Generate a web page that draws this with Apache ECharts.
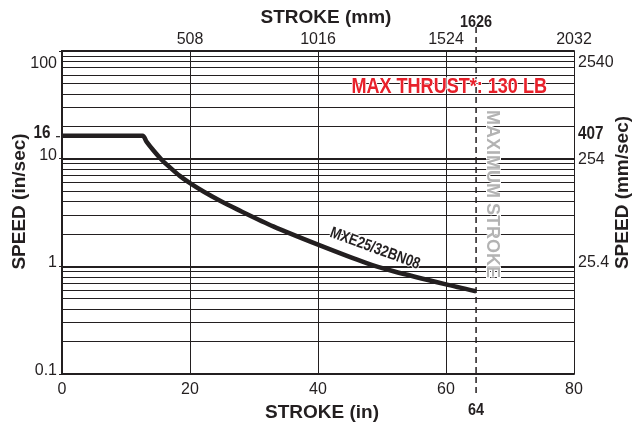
<!DOCTYPE html>
<html>
<head>
<meta charset="utf-8">
<script src="https://cdn.jsdelivr.net/npm/echarts@6/dist/echarts.min.js"></script>
<style>
  html, body { margin: 0; padding: 0; background: #fff; }
  #chart { width: 636px; height: 427px; }
</style>
</head>
<body>
<div id="chart"></div>
<script>
// stroke (in) -> max speed (in/sec)
const strokeIn = [0, 12.6, 13.2, 14.3, 15.6, 16.9, 18.4, 20, 22.1, 24.7, 27.3, 33, 40, 47.6, 51.8, 60, 64.7];
const speedIn = [16.3, 16.3, 14.4, 11.9, 9.73, 8.26, 6.92, 5.92, 4.95, 4.06, 3.40, 2.35, 1.59, 1.07, 0.90, 0.68, 0.587];
// minor horizontal grid lines (log decades)
const minorGrid = [0.2, 0.3, 0.4, 0.5, 0.6, 0.7, 0.8, 0.9, 2, 3, 4, 5, 6, 7, 8, 9, 20, 30, 40, 50, 60, 70, 80, 90];
const MM_PER_IN = 25.4;
const STROKE_MAX = 64.7; // where the dashed line sits in the picture
const SPEED_MAX = 16;

const FONT = '"Liberation Sans", Arial, sans-serif';
const INK = '#231f20';

const chart = echarts.init(document.getElementById('chart'));

const xBase = {
  type: 'value', min: 0, max: 80, interval: 20,
  axisLine: { show: true, lineStyle: { color: INK, width: 2 } },
  axisTick: { show: false },
  nameLocation: 'middle',
  nameTextStyle: { fontFamily: FONT, fontWeight: 'bold', fontSize: 19, color: INK }
};
const yBase = {
  type: 'log', logBase: 10, min: 0.1, max: 100,
  axisLine: { show: true, lineStyle: { color: INK, width: 2 } },
  nameLocation: 'middle', nameRotate: 90, nameMoveOverlap: false,
  nameTextStyle: { fontFamily: FONT, fontWeight: 'bold', fontSize: 19, color: INK }
};

chart.setOption({
  animation: false,
  grid: { left: 62, right: 62, top: 51, bottom: 53, containLabel: false, outerBoundsMode: 'none' },
  xAxis: [
    Object.assign({}, xBase, {
      position: 'bottom',
      name: 'STROKE (in)', nameGap: 28,
      nameTextStyle: Object.assign({}, xBase.nameTextStyle, { padding: [0, 0, 0, 8] }),
      axisLabel: { fontFamily: FONT, fontSize: 16, color: INK, margin: 8 },
      splitLine: { show: true, lineStyle: { color: INK, width: 1 } }
    }),
    Object.assign({}, xBase, {
      position: 'top',
      name: 'STROKE (mm)', nameGap: 24,
      nameTextStyle: Object.assign({}, xBase.nameTextStyle, { padding: [0, 0, 0, 16] }),
      axisLabel: {
        fontFamily: FONT, fontSize: 16, color: INK, margin: 3,
        formatter: v => v === 0 ? '' : String(Math.round(v * MM_PER_IN))
      },
      splitLine: { show: false }
    })
  ],
  yAxis: [
    Object.assign({}, yBase, {
      position: 'left',
      name: 'SPEED (in/sec)', nameGap: 33,
      nameTextStyle: Object.assign({}, yBase.nameTextStyle, { padding: [0, 0, 0, 22] }),
      axisTick: { show: true, length: 3, lineStyle: { color: INK } },
      axisLabel: {
        fontFamily: FONT, fontSize: 16, color: INK, margin: 5,
        formatter: v => v > 50 ? '{low|100}' : '{up|' + (v < 0.5 ? '0.1' : Math.round(v)) + '}',
        rich: {
          low: { fontFamily: FONT, fontSize: 16, color: INK, padding: [26, 0, 0, 0] },
          up: { fontFamily: FONT, fontSize: 16, color: INK, padding: [0, 0, 7, 0] }
        }
      },
      splitLine: { show: true, lineStyle: { color: INK, width: 2 } }
    }),
    Object.assign({}, yBase, {
      position: 'right',
      name: 'SPEED (mm/sec)', nameGap: 39,
      nameTextStyle: Object.assign({}, yBase.nameTextStyle, { padding: [0, 0, 0, 40] }),
      axisTick: { show: false },
      axisLabel: {
        fontFamily: FONT, fontSize: 16, color: INK, margin: 4,
        formatter: v => {
          if (v < 0.5) return '';
          const mm = v * MM_PER_IN;
          return v > 50 ? '{low|' + Math.round(mm) + '}' :
            (v >= 10 ? '{mid|' + Math.round(mm) + '}' : '{up|' + mm.toFixed(1) + '}');
        },
        rich: {
          low: { fontFamily: FONT, fontSize: 16, color: INK, padding: [24, 0, 0, 0] },
          mid: { fontFamily: FONT, fontSize: 16, color: INK, padding: [2, 0, 0, 0] },
          up: { fontFamily: FONT, fontSize: 16, color: INK, padding: [0, 0, 7, 0] }
        }
      },
      splitLine: { show: false }
    })
  ],
  series: [
    {
      type: 'line', data: [], silent: true, z: 1,
      markLine: {
        silent: true, symbol: 'none', label: { show: false },
        lineStyle: { color: INK, width: 1, type: 'solid' },
        data: minorGrid.map(v => ({ yAxis: v }))
      }
    },
    {
      name: 'MXE25/32BN08',
      type: 'line', z: 3,
      data: strokeIn.map((x, i) => [x, speedIn[i]]),
      showSymbol: false, smooth: 0.25,
      lineStyle: { color: INK, width: 4.5 }
    }
  ]
});

// annotations placed through the axes' own scales
const px = v => chart.convertToPixel({ xAxisIndex: 0, yAxisIndex: 0 }, v);
const [xMax] = px([STROKE_MAX, 1]);
const [gx0, yTop] = px([0, 100]);
const [gx1, yBot] = px([80, 0.1]);
const y16 = px([0, SPEED_MAX])[1];
const thrust = px([60.5, 46]);
const stroke = px([STROKE_MAX, 4.7]);
const curveLbl = px([48.9, 1.46]);

const txt = (text, x, y, opts) => ({
  type: 'text', x: x, y: y, z: 10, silent: true,
  rotation: opts.rotation || 0,
  scaleX: opts.scaleX || 1,
  style: Object.assign({
    text: text, fill: INK, align: 'center', verticalAlign: 'middle',
    font: 'bold 16px ' + FONT
  }, opts.style || {})
});

chart.setOption({
  graphic: [
    {
      type: 'line', z: 5, silent: true,
      shape: { x1: xMax, y1: yTop - 24, x2: xMax, y2: yBot + 20 },
      style: { stroke: INK, lineWidth: 1.5, lineDash: [6, 4] }
    },
    txt('1626', xMax, yTop - 29, { scaleX: 0.85, style: { font: 'bold 17px ' + FONT } }),
    txt('64', xMax, yBot + 36, { scaleX: 0.85, style: { font: 'bold 17px ' + FONT } }),
    txt('16', gx0 - 20, y16 - 4, { scaleX: 0.85, style: { font: 'bold 18px ' + FONT } }),
    {
      type: 'line', z: 5, silent: true,
      shape: { x1: gx0 - 6, y1: y16, x2: gx0 - 2, y2: y16 },
      style: { stroke: INK, lineWidth: 1.2 }
    },
    txt('407', gx1 + 4, y16 - 3, { scaleX: 0.85, style: { align: 'left', font: 'bold 18px ' + FONT } }),
    txt('MAX THRUST*: 130 LB', thrust[0], thrust[1], {
      scaleX: 0.82,
      style: { fill: '#e8212b', font: 'bold 22px ' + FONT, stroke: '#fff', lineWidth: 2 }
    }),
    txt('MAXIMUM STROKE', stroke[0] + 16, stroke[1], {
      rotation: -Math.PI / 2,
      style: { fill: '#b3b3b3', font: 'bold 18px ' + FONT, stroke: '#fff', lineWidth: 2 }
    }),
    txt('MXE25/32BN08', curveLbl[0], curveLbl[1], {
      rotation: -0.35, scaleX: 0.82,
      style: { font: 'bold 16px ' + FONT, stroke: '#fff', lineWidth: 2 }
    })
  ]
});
</script>
</body>
</html>
